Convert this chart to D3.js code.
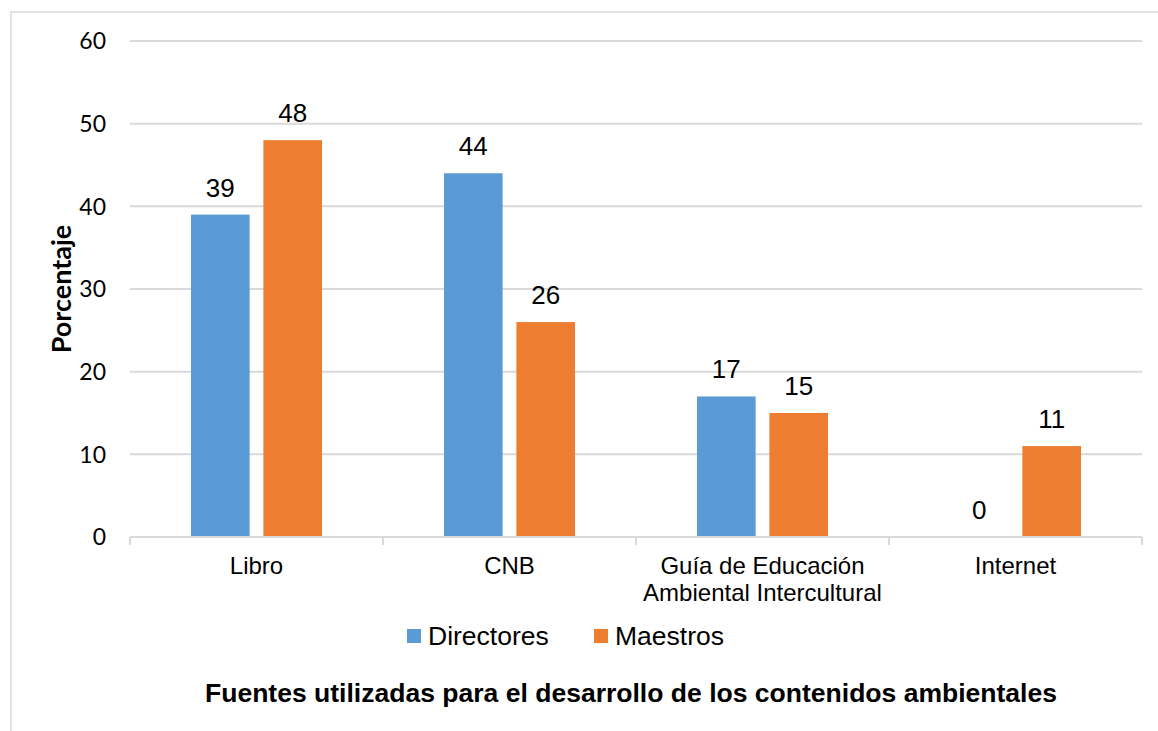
<!DOCTYPE html>
<html>
<head>
<meta charset="utf-8">
<script src="https://cdn.jsdelivr.net/npm/d3@7/dist/d3.min.js"></script>
<style>
  body { margin: 0; background: #fff; }
  svg { display: block; }
</style>
</head>
<body>
<div id="chart"></div>
<script>
var categories = ["Libro", "CNB", "Guía de Educación|Ambiental Intercultural", "Internet"];
var series = ["Directores", "Maestros"];
var directores = [39, 44, 17, 0];
var maestros = [48, 26, 15, 11];
var yTicks = [0, 10, 20, 30, 40, 50, 60];

function init() {
  var width = 1158;
  var height = 731;
  var margin = { left: 130, right: 16, top: 41, bottom: 194 };

  var svg = d3.select("#chart")
    .append("svg")
    .attr("width", width)
    .attr("height", height);

  // outer frame
  svg.append("rect")
    .attr("x", 11).attr("y", 12)
    .attr("width", width + 20).attr("height", height + 20)
    .attr("fill", "none")
    .attr("stroke", "#d9d9d9")
    .attr("stroke-width", 1.5);

  var x = d3.scaleBand()
    .domain(categories)
    .range([margin.left, width - margin.right]);

  var x1 = d3.scaleBand()
    .domain(series)
    .range([61, x.bandwidth() - 61])
    .paddingInner(0.19);

  var y = d3.scaleLinear()
    .domain([0, 60])
    .range([height - margin.bottom, margin.top]);

  var color = d3.scaleOrdinal()
    .domain(series)
    .range(["#5b9bd5", "#ed7d31"]);

  // gridlines
  svg.append("g")
    .selectAll("line")
    .data(yTicks.slice(1))
    .enter()
    .append("line")
    .attr("x1", margin.left)
    .attr("x2", width - margin.right)
    .attr("y1", function(d) { return y(d); })
    .attr("y2", function(d) { return y(d); })
    .attr("stroke", "#d9d9d9")
    .attr("stroke-width", 2);

  // y tick labels
  svg.append("g")
    .selectAll("text")
    .data(yTicks)
    .enter()
    .append("text")
    .attr("x", 106)
    .attr("y", function(d) { return y(d); })
    .attr("dy", "0.36em")
    .attr("text-anchor", "end")
    .style("font-family", "Lato, 'Liberation Sans', sans-serif")
    .style("font-size", "23px")
    .attr("fill", "#000")
    .text(function(d) { return d; });

  var rows = categories.map(function(c, i) {
    return { cat: c, values: [
      { s: "Directores", v: directores[i] },
      { s: "Maestros", v: maestros[i] }
    ] };
  });

  var groups = svg.append("g")
    .selectAll("g")
    .data(rows)
    .enter()
    .append("g")
    .attr("transform", function(d) { return "translate(" + x(d.cat) + ",0)"; });

  groups.selectAll("rect")
    .data(function(d) { return d.values; })
    .enter()
    .append("rect")
    .attr("x", function(d) { return x1(d.s); })
    .attr("width", x1.bandwidth())
    .attr("y", function(d) { return y(d.v); })
    .attr("height", function(d) { return y(0) - y(d.v); })
    .attr("fill", function(d) { return color(d.s); });

  groups.selectAll("text")
    .data(function(d) { return d.values; })
    .enter()
    .append("text")
    .attr("x", function(d) { return x1(d.s) + x1.bandwidth() / 2; })
    .attr("y", function(d) { return y(d.v) - 18; })
    .attr("text-anchor", "middle")
    .style("font-family", "'Liberation Sans', Arial, sans-serif")
    .style("font-size", "26px")
    .attr("fill", "#000")
    .text(function(d) { return d.v; });

  // x axis baseline and ticks
  var axis = svg.append("g");
  axis.append("line")
    .attr("x1", margin.left).attr("x2", width - margin.right)
    .attr("y1", y(0)).attr("y2", y(0))
    .attr("stroke", "#d9d9d9").attr("stroke-width", 2);

  var tickX = categories.map(function(c) { return x(c); }).concat([x.range()[1]]);
  axis.selectAll("line.tick")
    .data(tickX)
    .enter()
    .append("line")
    .attr("class", "tick")
    .attr("x1", function(d) { return d; })
    .attr("x2", function(d) { return d; })
    .attr("y1", y(0)).attr("y2", y(0) + 8)
    .attr("stroke", "#d9d9d9").attr("stroke-width", 2);

  var catText = axis.selectAll("text")
    .data(categories)
    .enter()
    .append("text")
    .attr("x", function(d) { return x(d) + x.bandwidth() / 2; })
    .attr("y", 574)
    .attr("text-anchor", "middle")
    .style("font-family", "'Liberation Sans', Arial, sans-serif")
    .style("font-size", "24px")
    .attr("fill", "#000");

  catText.each(function(d) {
    var t = d3.select(this);
    d.split("|").forEach(function(line, i) {
      t.append("tspan")
        .attr("x", x(d) + x.bandwidth() / 2)
        .attr("dy", i === 0 ? 0 : 27)
        .text(line);
    });
  });

  // legend
  var legendX = [407, 594];
  var legend = svg.append("g")
    .selectAll("g")
    .data(series)
    .enter()
    .append("g")
    .attr("transform", function(d, i) { return "translate(" + legendX[i] + ",629)"; });

  legend.append("rect")
    .attr("width", 14).attr("height", 14)
    .attr("fill", function(d) { return color(d); });

  legend.append("text")
    .attr("x", 21).attr("y", 16)
    .style("font-family", "'Liberation Sans', Arial, sans-serif")
    .style("font-size", "26.5px")
    .attr("fill", "#000")
    .text(function(d) { return d; });

  // axis titles
  svg.append("text")
    .attr("transform", "translate(71,289) rotate(-90)")
    .attr("text-anchor", "middle")
    .style("font-family", "Lato, 'Liberation Sans', sans-serif")
    .style("font-weight", "bold")
    .style("font-size", "27px")
    .attr("fill", "#000")
    .text("Porcentaje");

  svg.append("text")
    .attr("x", 631)
    .attr("y", 702)
    .attr("text-anchor", "middle")
    .attr("textLength", 852)
    .attr("lengthAdjust", "spacingAndGlyphs")
    .style("font-family", "'Liberation Sans', Arial, sans-serif")
    .style("font-weight", "bold")
    .style("font-size", "26px")
    .attr("fill", "#000")
    .text("Fuentes utilizadas para el desarrollo de los contenidos ambientales");
}

window.onload = init;
</script>
</body>
</html>
